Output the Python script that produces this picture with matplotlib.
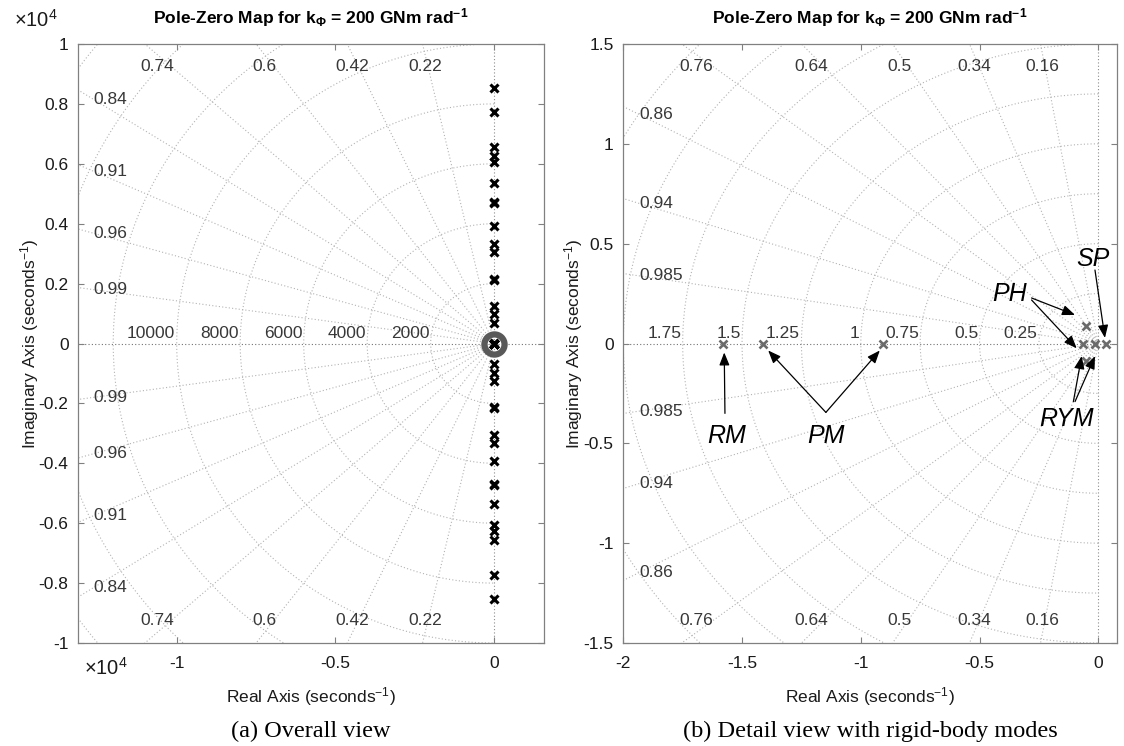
import numpy as np
import matplotlib
matplotlib.use('Agg')
import matplotlib.pyplot as plt
from matplotlib.ticker import FixedLocator, FuncFormatter

plt.rcParams['font.family'] = ['Liberation Sans', 'DejaVu Sans']
plt.rcParams['mathtext.fontset'] = 'custom'
plt.rcParams['mathtext.rm'] = 'Liberation Sans'
plt.rcParams['mathtext.it'] = 'Liberation Sans:italic'
plt.rcParams['mathtext.bf'] = 'Liberation Sans:bold'
plt.rcParams['mathtext.default'] = 'regular'
plt.rcParams['axes.unicode_minus'] = False

# ---------------- data ----------------
# flexible-mode poles (upper half plane, rad/s); conjugates are mirrored
flex_imag = [670, 1000, 1250, 2110, 2160, 3070, 3320, 3930, 4680, 4740,
             5370, 6050, 6250, 6550, 7730, 8530]
flex_real = [-15, -15, -15, -15, -15, -15, -15, -15, -15, -15,
             -15, -15, -15, -15, -15, -15]
# rigid-body poles (s^-1)
rigid_real = [-1.579, -1.41, -0.907, -0.05, -0.05, -0.063, -0.014, 0.032]
rigid_imag = [0.0, 0.0, 0.0, 0.086, -0.086, 0.0, 0.0, 0.0]
# zero shown on overall view
zero_real = [0.0]
zero_imag = [0.0]

left_zeta_top = [0.22, 0.42, 0.6, 0.74]
left_zeta_side = [0.84, 0.91, 0.96, 0.99]
left_wn = [2000, 4000, 6000, 8000, 10000, 12000, 14000, 16000]
left_wn_labels = ['2000', '4000', '6000', '8000', '10000']
left_xticks = [-10000, -5000, 0]
left_yticks = [-10000, -8000, -6000, -4000, -2000, 0, 2000, 4000, 6000, 8000, 10000]

right_zeta_top = [0.16, 0.34, 0.5, 0.64, 0.76]
right_zeta_side = [0.86, 0.94, 0.985]
right_wn = [0.25, 0.5, 0.75, 1.0, 1.25, 1.5, 1.75, 2.0, 2.25, 2.5]
right_wn_labels = ['0.25', '0.5', '0.75', '1', '1.25', '1.5', '1.75']
right_xticks = [-2, -1.5, -1, -0.5, 0]
right_yticks = [-1.5, -1, -0.5, 0, 0.5, 1, 1.5]

# annotations: (label, text x, text y, [(tail x, tail y, head x, head y), ...])
annotations = [
    ('RM', -1.565, -0.465, [(-1.572, -0.35, -1.575, -0.045)]),
    ('PM', -1.147, -0.465, [(-1.147, -0.345, -1.39, -0.035),
                            (-1.147, -0.345, -0.92, -0.035)]),
    ('PH', -0.375, 0.25, [(-0.281, 0.228, -0.098, 0.143),
                          (-0.281, 0.218, -0.091, -0.024)]),
    ('SP', -0.024, 0.423, [(-0.014, 0.368, 0.028, 0.028)]),
    ('RYM', -0.133, -0.38, [(-0.105, -0.291, -0.07, -0.063),
                            (-0.098, -0.291, -0.014, -0.063)]),
]

W, H = 1124, 746
fig = plt.figure(figsize=(W / 100, H / 100), dpi=100)


def ftext(x, y, s, **kw):
    return fig.text(x / W, 1 - y / H, s, **kw)


def px_axes(x0, y0, x1, y1):
    return fig.add_axes([x0 / W, 1 - y1 / H, (x1 - x0) / W, (y1 - y0) / H])


ax1 = px_axes(78.3, 44, 544, 643)
ax2 = px_axes(623.3, 44, 1117.3, 643)

GRID_C = '0.70'
LAB_C = '0.22'
DOT = (0, (1, 2))


def setup_grid(ax, xlim, ylim, ztop, zside, wns, wnlabels, R):
    ax.set_xlim(*xlim)
    ax.set_ylim(*ylim)
    for z in ztop + zside:
        s = np.sqrt(1 - z * z)
        for sg in (1, -1):
            ax.plot([0, -R * z], [0, sg * R * s], color=GRID_C, ls=DOT, lw=0.8, zorder=1)
    th = np.linspace(np.pi / 2, 3 * np.pi / 2, 600)
    for w in wns:
        ax.plot(w * np.cos(th), w * np.sin(th), color=GRID_C, ls=DOT, lw=0.8, zorder=1)
    ax.axhline(0, color='0.45', ls=DOT, lw=0.8, zorder=1)
    ax.axvline(0, color='0.55', ls=DOT, lw=0.8, zorder=1)
    xw = xlim[1] - xlim[0]
    yh = ylim[1] - ylim[0]
    yray = ylim[0] + 0.983 * yh
    for z in ztop:
        x = -yray * z / np.sqrt(1 - z * z)
        for fr in (0.9617, 0.0383):
            ax.text(x, ylim[0] + fr * yh, f'{z:g}', ha='center', va='center',
                    fontsize=12.5, color=LAB_C, zorder=3)
    xl = xlim[0] + 0.032 * xw
    for z in zside:
        y = -xl * np.sqrt(1 - z * z) / z
        for sg in (1, -1):
            ax.text(xl, sg * y, f'{z:g}', ha='left', va='center',
                    fontsize=12.5, color=LAB_C, zorder=3)
    for w, lab in zip(wns, wnlabels):
        ax.annotate(lab, (-w, 0), xytext=(-1, 1.5), textcoords='offset points',
                    ha='right', va='bottom', fontsize=12.5, color=LAB_C, zorder=3)


def style_axes(ax, xt, yt, fmt):
    for sp in ax.spines.values():
        sp.set_color('0.5')
        sp.set_linewidth(0.9)
    ax.xaxis.set_major_locator(FixedLocator(xt))
    ax.yaxis.set_major_locator(FixedLocator(yt))
    ax.xaxis.set_major_formatter(FuncFormatter(fmt))
    ax.yaxis.set_major_formatter(FuncFormatter(fmt))
    ax.tick_params(direction='in', length=4.5, width=0.8, color='0.5',
                   top=True, right=True, labelsize=12.5, labelcolor='0.1')
    ax.tick_params(axis='x', pad=9)
    ax.tick_params(axis='y', pad=7)


# ---------- left: overall view ----------
setup_grid(ax1, (-13100, 1570), (-10000, 10000), left_zeta_top, left_zeta_side,
           left_wn, left_wn_labels, 1e6)
style_axes(ax1, left_xticks, left_yticks, lambda v, p: f'{v / 1e4:g}')
ax1.plot(zero_real, zero_imag, 'o', ms=14.5, mew=4.5, mfc='none', mec='0.35', zorder=4)
fr = np.array(flex_real)
fi = np.array(flex_imag)
ax1.plot(np.r_[fr, fr], np.r_[fi, -fi], 'x', color='k', ms=6.3, mew=2.2, ls='none', zorder=5)
ax1.plot(rigid_real, rigid_imag, 'x', color='k', ms=6.3, mew=2.2, ls='none', zorder=5)

# ---------- right: detail view ----------
setup_grid(ax2, (-2.0, 0.08), (-1.5, 1.5), right_zeta_top, right_zeta_side,
           right_wn, right_wn_labels, 100)
style_axes(ax2, right_xticks, right_yticks, lambda v, p: f'{v:g}')
ax2.plot(rigid_real, rigid_imag, 'x', color='0.42', ms=5.8, mew=1.9, ls='none', zorder=5)

for lab, tx, ty, arrows in annotations:
    ax2.text(tx, ty, lab, ha='center', va='center', fontsize=18, style='italic',
             color='k', zorder=6)
    for (x0, y0, x1, y1) in arrows:
        ax2.annotate('', xy=(x1, y1), xytext=(x0, y0),
                     arrowprops=dict(arrowstyle='-|>,head_length=0.55,head_width=0.22',
                                     color='k', lw=0.9,
                                     mutation_scale=14, shrinkA=0, shrinkB=0),
                     zorder=6)

# ---------- titles, labels ----------
title = r'Pole-Zero Map for k$_{\Phi}$ = 200 GNm rad$^{-1}$'
for cx in (311, 870):
    ftext(cx, 18, title, ha='center', va='center', fontsize=12.5, fontweight='bold')
    ftext(cx, 697, r'Real Axis (seconds$^{-1}$)', ha='center', va='center',
          fontsize=12.5, color='0.1')
for lx in (30, 574):
    ftext(lx, 343.5, r'Imaginary Axis (seconds$^{-1}$)', ha='center', va='center',
          rotation=90, fontsize=12.5, color='0.1')

ftext(14, 27, r'$\times$10$^{4}$', ha='left', va='baseline', fontsize=14.5, color='0.1')
ftext(84, 675, r'$\times$10$^{4}$', ha='left', va='baseline', fontsize=14.5, color='0.1')

ftext(311, 731, '(a) Overall view', ha='center', va='center', fontsize=17.5,
      family=['Liberation Serif', 'DejaVu Serif'])
ftext(870, 731, '(b) Detail view with rigid-body modes', ha='center', va='center',
      fontsize=17.5, family=['Liberation Serif', 'DejaVu Serif'])

fig.savefig('out.png', dpi=100)
